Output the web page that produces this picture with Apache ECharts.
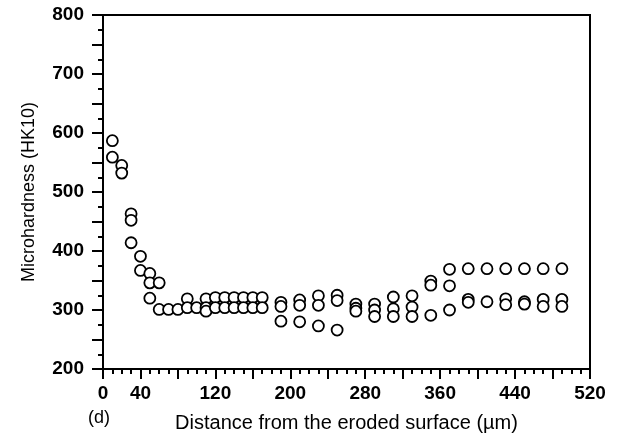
<!DOCTYPE html>
<html>
<head>
<meta charset="utf-8">
<script src="https://cdn.jsdelivr.net/npm/echarts@6/dist/echarts.min.js"></script>
<style>html,body{margin:0;padding:0;background:#fff;}#c{width:620px;height:443px;}</style>
</head>
<body>
<div id="c"></div>
<script>
// Distance from the eroded surface (µm) and matching microhardness (HK10)
const distance = [
  10, 10,
  20, 20,
  30, 30, 30,
  40, 40,
  50, 50, 50,
  60, 60,
  70,
  80,
  90, 90,
  100,
  110, 110, 110,
  120, 120,
  130, 130,
  140, 140,
  150, 150,
  160, 160,
  170, 170,
  190, 190, 190,
  210, 210, 210,
  230, 230, 230,
  250, 250, 250,
  270, 270, 270,
  290, 290, 290,
  310, 310, 310,
  330, 330, 330,
  350, 350, 350,
  370, 370, 370,
  390, 390, 390,
  410, 410,
  430, 430, 430,
  450, 450, 450,
  470, 470, 470,
  490, 490, 490
];
const hardness = [
  587, 559,
  545, 532,
  463, 452, 414,
  391, 367,
  362, 346, 320,
  346, 301,
  301,
  301,
  319, 304,
  304,
  319, 304, 298,
  321, 304,
  321, 304,
  321, 304,
  321, 304,
  321, 304,
  321, 304,
  313, 306, 281,
  317, 308, 280,
  324, 308, 273,
  325, 316, 266,
  310, 303, 298,
  310, 300, 289,
  322, 302, 289,
  324, 305, 289,
  349, 342, 291,
  369, 341, 300,
  370, 318, 313,
  370, 314,
  370, 319, 309,
  370, 314, 310,
  370, 318, 306,
  370, 318, 306
];
const xLabels = [0, 40, 120, 200, 280, 360, 440, 520];
const yLabels = [200, 300, 400, 500, 600, 700, 800];

const points = distance.map((d, i) => [d, hardness[i]]);
const FONT = '"Liberation Sans", Arial, sans-serif';

const chart = echarts.init(document.getElementById('c'), null, {renderer: 'canvas'});
chart.setOption({
  animation: false,
  backgroundColor: '#fff',
  grid: {
    left: 103, right: 30, top: 15, bottom: 74,
    show: true, borderColor: '#000', borderWidth: 2, backgroundColor: 'transparent'
  },
  xAxis: {
    type: 'value', min: 0, max: 520, interval: 40,
    name: 'Distance from the eroded surface (µm)',
    nameLocation: 'middle', nameGap: 44,
    nameTextStyle: {fontFamily: FONT, fontSize: 20, color: '#000'},
    axisLine: {show: true, lineStyle: {color: '#000', width: 2}},
    axisTick: {show: true, length: 10, lineStyle: {color: '#000', width: 2}},
    minorTick: {show: true, splitNumber: 4, length: 5, lineStyle: {color: '#000', width: 2}},
    splitLine: {show: false},
    axisLabel: {
      fontFamily: FONT, fontSize: 19, fontWeight: 'bold', color: '#000', margin: 15,
      formatter: v => xLabels.includes(v) ? String(v) : ''
    }
  },
  yAxis: {
    type: 'value', min: 200, max: 800, interval: 50,
    name: 'Microhardness (HK10)',
    nameLocation: 'middle', nameGap: 65,
    nameTextStyle: {fontFamily: FONT, fontSize: 18, color: '#000'},
    axisLine: {show: true, lineStyle: {color: '#000', width: 2}},
    axisTick: {show: true, length: 11, lineStyle: {color: '#000', width: 2}},
    minorTick: {show: true, splitNumber: 2, length: 5, lineStyle: {color: '#000', width: 2}},
    splitLine: {show: false},
    axisLabel: {
      fontFamily: FONT, fontSize: 19, fontWeight: 'bold', color: '#000', margin: 19,
      formatter: v => yLabels.includes(v) ? String(v) : ''
    }
  },
  graphic: [{
    type: 'text', left: 88, top: 409,
    style: {text: '(d)', font: '18px ' + FONT, fill: '#000'}
  }],
  series: [{
    type: 'scatter',
    data: points,
    symbol: 'circle',
    symbolSize: 11,
    itemStyle: {color: '#fff', borderColor: '#000', borderWidth: 1.8, opacity: 1},
    emphasis: {disabled: true}
  }]
});
</script>
</body>
</html>
